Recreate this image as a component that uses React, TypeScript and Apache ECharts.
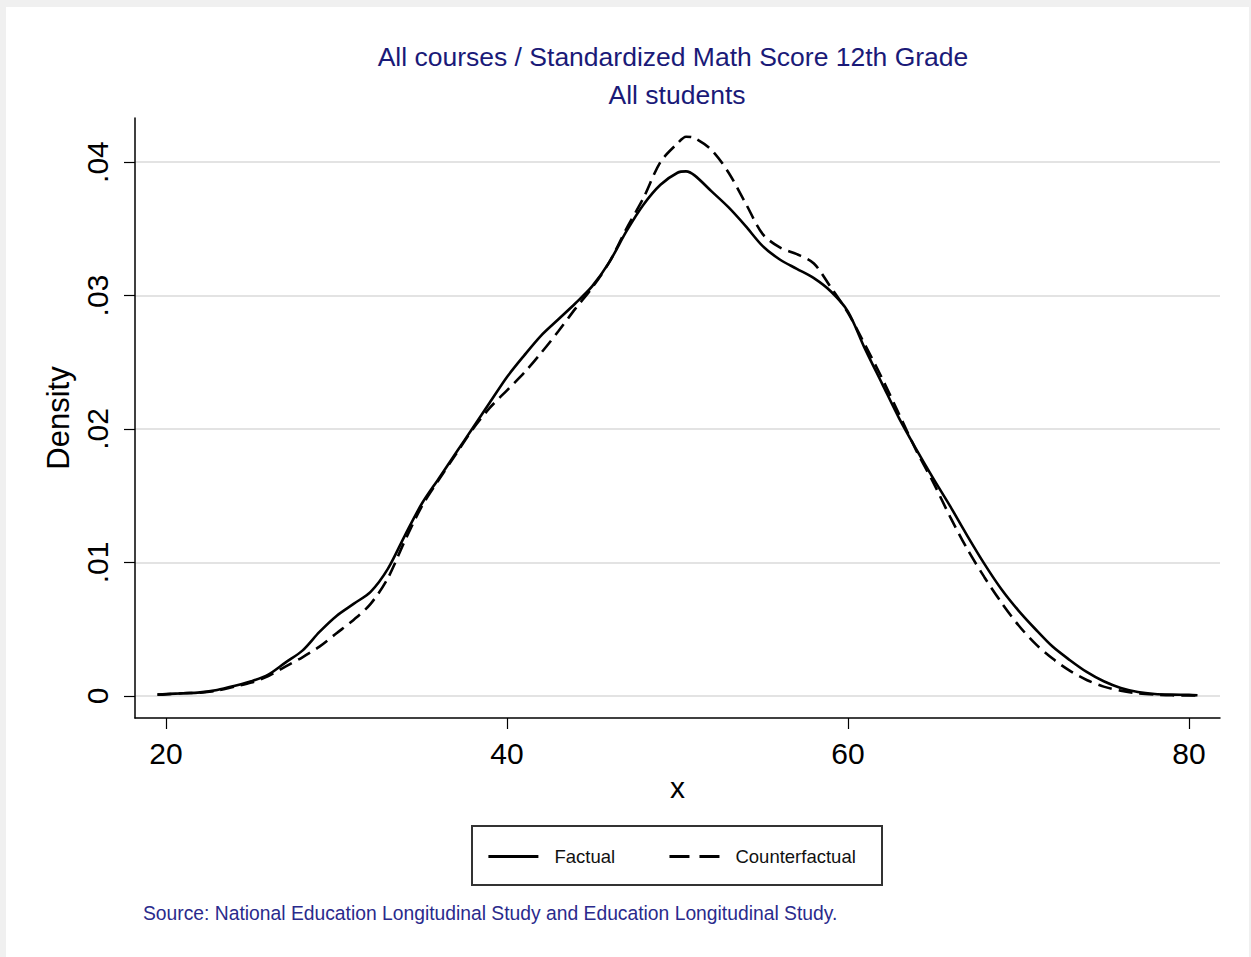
import React, { useEffect, useRef } from "react";
import * as echarts from "echarts";

const xs = [19.5, 20, 21, 22, 23, 24, 25, 26, 27, 28, 29, 30, 31, 32, 33, 34, 35, 36, 37, 38, 39, 40, 41, 42, 43, 44, 45, 46, 47, 48, 49, 50, 50.5, 51, 52, 53, 54, 55, 56, 57, 58, 59, 60, 61, 62, 63, 64, 65, 66, 67, 68, 69, 70, 71, 72, 73, 74, 75, 76, 77, 78, 79, 80, 80.5];
const factual = [0.0001, 0.00015, 0.0002, 0.00027, 0.00045, 0.00075, 0.0011, 0.0016, 0.0025, 0.0034, 0.0048, 0.006, 0.0069, 0.0078, 0.0095, 0.012, 0.0144, 0.0163, 0.0182, 0.0201, 0.022, 0.0239, 0.0255, 0.027, 0.0282, 0.0294, 0.0307, 0.0325, 0.0348, 0.0368, 0.0383, 0.0392, 0.0393, 0.039, 0.0378, 0.0366, 0.0352, 0.0337, 0.0327, 0.032, 0.0313, 0.0303, 0.0288, 0.026, 0.0234, 0.0208, 0.0185, 0.0163, 0.0142, 0.012, 0.0099, 0.008, 0.0064, 0.005, 0.0037, 0.0027, 0.0018, 0.0011, 0.0006, 0.0003, 0.00015, 0.0001, 0.00008, 0.00005];
const counterfactual = [0.0001, 0.00012, 0.0002, 0.00025, 0.0004, 0.0007, 0.001, 0.0015, 0.0022, 0.0029, 0.0037, 0.0047, 0.0057, 0.0069, 0.0088, 0.0116, 0.0142, 0.0162, 0.0181, 0.02, 0.0216, 0.0229, 0.0242, 0.0257, 0.0273, 0.029, 0.0306, 0.0325, 0.035, 0.0373, 0.04, 0.0414, 0.0419, 0.0418, 0.0409, 0.0392, 0.0369, 0.0346, 0.0336, 0.0331, 0.0324, 0.0306, 0.0287, 0.0263, 0.0238, 0.0211, 0.0184, 0.016, 0.0134, 0.011, 0.0089, 0.007, 0.0053, 0.0039, 0.0028, 0.0019, 0.0012, 0.0007, 0.0004, 0.0002, 0.0001, 0.00005, 0.00004, 0.00003];

const xTicks = [20, 40, 60, 80];
const yTicks = [0, 0.01, 0.02, 0.03, 0.04];
const yTickLabels = ["0", ".01", ".02", ".03", ".04"];

const seriesNames = ["Factual", "Counterfactual"];
const titleText = "All courses / Standardized Math Score 12th Grade";
const subtitleText = "All students";
const noteText = "Source: National Education Longitudinal Study and Education Longitudinal Study.";

const FONT = "'Liberation Sans', Arial, sans-serif";

export default function App() {
  const ref = useRef<HTMLDivElement>(null);
  useEffect(() => {
    if (!ref.current) return;
    const chart = echarts.init(ref.current, undefined, { renderer: "svg" });
    const pairs = (ys: number[]) => xs.map((x, i) => [x, ys[i]]);
    chart.setOption({
      animation: false,
      backgroundColor: "#f0f0f0",
      textStyle: { fontFamily: FONT },
      graphic: [
        { type: "rect", z: -10, silent: true, shape: { x: 6, y: 7, width: 1243, height: 950 }, style: { fill: "#ffffff" } },
        { type: "text", x: 673, y: 57, style: { text: titleText, font: `26.5px ${FONT}`, fill: "#1a1a78", textAlign: "center", textVerticalAlign: "middle" } },
        { type: "text", x: 677, y: 95, style: { text: subtitleText, font: `26.5px ${FONT}`, fill: "#1a1a78", textAlign: "center", textVerticalAlign: "middle" } },
        { type: "rect", shape: { x: 472, y: 826, width: 410, height: 59 }, style: { fill: "none", stroke: "#333333", lineWidth: 2 } },
        { type: "text", x: 143, y: 913, style: { text: noteText, font: `19.3px ${FONT}`, fill: "#2a2a8c", textAlign: "left", textVerticalAlign: "middle" } },
      ],
      legend: {
        left: 487,
        top: 847,
        padding: 0,
        itemWidth: 50,
        itemHeight: 22,
        itemGap: 53,
        itemStyle: { opacity: 0 },
        textStyle: { fontSize: 18.5, color: "#111", fontFamily: FONT, padding: [0, 0, 0, 11] },
        data: [
          { name: seriesNames[0], lineStyle: { width: 2.8 } },
          { name: seriesNames[1], lineStyle: { type: [20, 10], width: 2.8 } },
        ],
      },
      grid: { left: 135, right: 31, top: 118, bottom: 239, containLabel: false },
      xAxis: {
        type: "value",
        min: 18.18,
        max: 81.82,
        name: "x",
        nameLocation: "middle",
        nameGap: 54,
        nameTextStyle: { fontSize: 30, color: "#000", fontFamily: FONT },
        axisLine: { show: true, onZero: false, lineStyle: { color: "#000", width: 1.5 } },
        axisTick: { show: true, length: 11, customValues: xTicks, lineStyle: { color: "#000", width: 1.2 } },
        axisLabel: { customValues: xTicks, fontSize: 30, color: "#000", margin: 20, fontFamily: FONT },
        splitLine: { show: false },
      },
      yAxis: {
        type: "value",
        min: -0.00165,
        max: 0.0433,
        name: "Density",
        nameLocation: "middle",
        nameGap: 59,
        nameTextStyle: { fontSize: 31, color: "#000", fontFamily: FONT },
        axisLine: { show: true, lineStyle: { color: "#000", width: 1.5 } },
        axisTick: { show: true, length: 11, customValues: yTicks, lineStyle: { color: "#000", width: 1.2 } },
        axisLabel: {
          customValues: yTicks,
          rotate: 90,
          fontSize: 30,
          color: "#000",
          margin: 23,
          fontFamily: FONT,
          formatter: (v: number) => {
            const i = yTicks.findIndex((t) => Math.abs(t - v) < 1e-9);
            return i >= 0 ? yTickLabels[i] : "";
          },
        },
        splitLine: { show: true, lineStyle: { color: "#e3e3e3", width: 2 } },
      },
      series: [
        {
          name: seriesNames[0],
          type: "line",
          data: pairs(factual),
          smooth: 0.3,
          symbol: "none",
          lineStyle: { color: "#000", width: 2.6, type: "solid" },
          itemStyle: { color: "#000" },
        },
        {
          name: seriesNames[1],
          type: "line",
          data: pairs(counterfactual),
          smooth: 0.3,
          symbol: "none",
          lineStyle: { color: "#000", width: 2.6, type: [14, 7] },
          itemStyle: { color: "#000" },
        },
      ],
    });
    return () => chart.dispose();
  }, []);
  return <div ref={ref} style={{ position: "fixed", left: 0, top: 0, width: 1251, height: 957 }} />;
}
